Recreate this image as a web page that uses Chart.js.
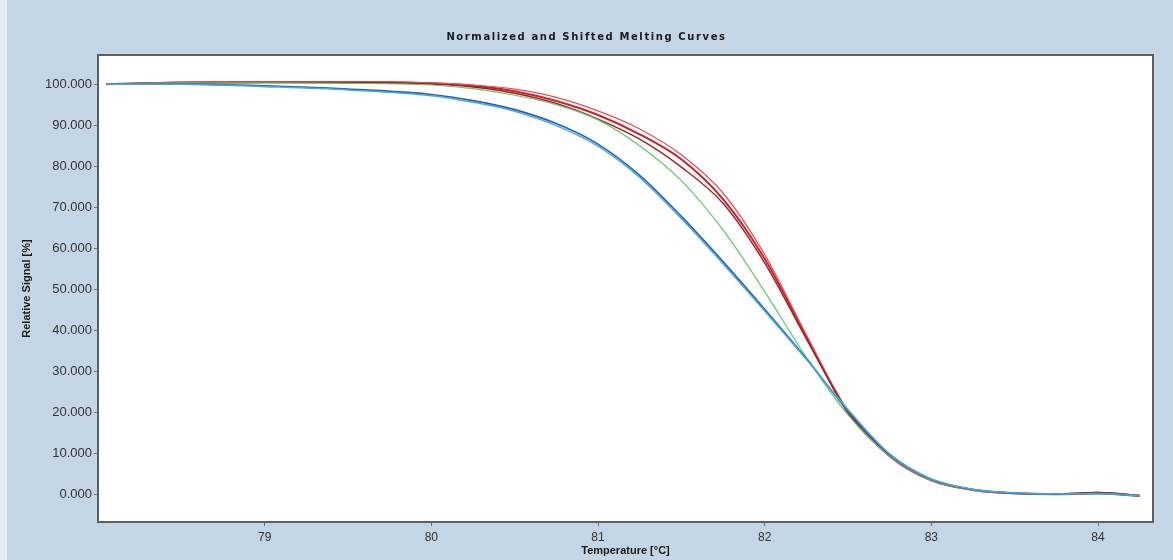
<!DOCTYPE html>
<html>
<head>
<meta charset="utf-8">
<title>Normalized and Shifted Melting Curves</title>
<script src="https://cdn.jsdelivr.net/npm/chart.js@4"></script>
<style>
    html, body { margin: 0; padding: 0; background: #c4d6e5; }
    #wrap { width: 1173px; height: 560px; position: relative; }
</style>
</head>
<body>
<div id="wrap"><canvas id="meltChart" width="1173" height="560"></canvas></div>
<script>
// temperatures the curves were read at (°C)
const temps = [78.05, 78.5, 79.0, 79.5, 80.0, 80.25, 80.5, 80.75, 81.0, 81.25, 81.5, 81.75,
    82.0, 82.25, 82.5, 82.75, 83.0, 83.25, 83.5, 83.75, 84.0, 84.25];

// relative signal (%) for each well
const redA   = [100.0, 100.4, 100.5, 100.5, 100.2, 99.6, 98.3, 95.9, 92.5, 87.8, 81.7, 72.0,
    57.5, 38.5, 20.0, 9.5, 3.6, 1.2, 0.4, 0.2, 0.5, -0.2];
const redB   = [100.0, 100.5, 100.6, 100.6, 100.3, 99.8, 98.8, 96.8, 93.5, 89.1, 82.8, 73.5,
    58.5, 39.0, 20.5, 9.3, 3.4, 1.1, 0.3, 0.1, 0.4, -0.3];
const redC   = [100.0, 100.3, 100.4, 100.4, 100.0, 99.3, 97.8, 95.3, 91.5, 86.6, 79.8, 71.0,
    56.5, 38.0, 20.3, 9.6, 3.7, 1.3, 0.4, 0.2, 0.6, -0.1];
const green  = [100.0, 100.3, 100.3, 100.2, 99.8, 98.9, 97.3, 95.0, 91.3, 85.0, 76.5, 64.5,
    49.5, 33.5, 19.5, 9.5, 3.6, 1.2, 0.4, 0.2, 0.4, -0.2];
const blueA  = [100.0, 100.0, 99.6, 98.8, 97.5, 96.0, 93.8, 90.4, 85.4, 77.8, 67.8, 56.8,
    45.2, 33.2, 20.5, 9.8, 3.8, 1.3, 0.4, 0.1, 0.3, -0.3];
const blueB  = [100.0, 100.0, 99.4, 98.6, 97.2, 95.6, 93.4, 89.9, 84.9, 77.3, 67.3, 56.3,
    44.8, 33.0, 20.8, 10.0, 3.9, 1.4, 0.5, 0.2, 0.3, -0.2];

const xTicks = [79, 80, 81, 82, 83, 84];
const yTicks = [0, 10, 20, 30, 40, 50, 60, 70, 80, 90, 100];

const chartTitle = 'Normalized and Shifted Melting Curves';
const xTitle = 'Temperature [°C]';
const yTitle = 'Relative Signal [%]';

function series(values) {
    return temps.map((t, i) => ({ x: t, y: values[i] }));
}

function line(label, values, color, width) {
    return {
        label: label,
        data: series(values),
        borderColor: color,
        borderWidth: width,
        pointRadius: 0,
        cubicInterpolationMode: 'monotone',
        fill: false
    };
}

// backgrounds, frame and the titles drawn straight on the canvas
const framePlugin = {
    id: 'frame',
    beforeDraw(chart) {
        const ctx = chart.ctx;
        const a = chart.chartArea;
        ctx.save();
        ctx.fillStyle = '#e6edf3';
        ctx.fillRect(0, 0, 7, chart.height);
        ctx.fillStyle = '#ffffff';
        ctx.fillRect(a.left, a.top, a.right - a.left, a.bottom - a.top);
        ctx.restore();
    },
    afterDraw(chart) {
        const ctx = chart.ctx;
        const a = chart.chartArea;
        ctx.save();
        ctx.strokeStyle = '#5a5f66';
        ctx.lineWidth = 2;
        ctx.strokeRect(a.left, a.top, a.right - a.left, a.bottom - a.top);

        ctx.fillStyle = '#1a1a1a';
        ctx.textAlign = 'center';
        ctx.textBaseline = 'middle';
        ctx.font = 'bold 10px "DejaVu Sans", sans-serif';
        ctx.letterSpacing = '1.6px';
        ctx.fillText(chartTitle, chart.width / 2, 37);

        ctx.letterSpacing = '0px';
        ctx.font = 'bold 11px "Liberation Sans Narrow", "Liberation Sans", sans-serif';
        ctx.fillText(xTitle, (a.left + a.right) / 2, 551);

        ctx.translate(27, (a.top + a.bottom) / 2);
        ctx.rotate(-Math.PI / 2);
        ctx.fillText(yTitle, 0, 0);
        ctx.restore();
    }
};

const ctx = document.getElementById('meltChart').getContext('2d');
new Chart(ctx, {
    type: 'line',
    data: {
        datasets: [
            line('Blue 2', blueB, '#4aa8e0', 1.5),
            line('Blue 1', blueA, '#2a5fb0', 1.6),
            line('Green', green, '#5cc86c', 1.2),
            line('Red 3', redC, '#9a2024', 1.4),
            line('Red 2', redB, '#e25050', 1.2),
            line('Red 1', redA, '#cc1f2a', 2)
        ]
    },
    options: {
        responsive: false,
        animation: false,
        events: [],
        layout: { padding: { top: 55, right: 20, left: 0, bottom: 0 } },
        plugins: {
            legend: { display: false },
            title: { display: false },
            tooltip: { enabled: false }
        },
        scales: {
            x: {
                type: 'linear',
                min: 78.0,
                max: 84.33,
                afterBuildTicks(scale) { scale.ticks = xTicks.map(v => ({ value: v })); },
                afterFit(scale) { scale.height = 38; },
                grid: { display: true, drawOnChartArea: false, drawTicks: true, tickLength: 4, color: '#6b7078' },
                border: { display: false },
                ticks: {
                    color: '#333333',
                    padding: 4,
                    font: { family: '"Liberation Sans Narrow", "Liberation Sans", sans-serif', size: 12 },
                    callback: v => String(v)
                }
            },
            y: {
                type: 'linear',
                min: -6.6,
                max: 107.1,
                afterBuildTicks(scale) { scale.ticks = yTicks.map(v => ({ value: v })); },
                afterFit(scale) { scale.width = 98; },
                grid: { display: true, drawOnChartArea: false, drawTicks: true, tickLength: 4, color: '#6b7078' },
                border: { display: false },
                ticks: {
                    color: '#333333',
                    padding: 2,
                    font: { family: '"Liberation Sans Narrow", "Liberation Sans", sans-serif', size: 13 },
                    callback: v => v.toFixed(3)
                }
            }
        }
    },
    plugins: [framePlugin]
});
</script>
</body>
</html>
